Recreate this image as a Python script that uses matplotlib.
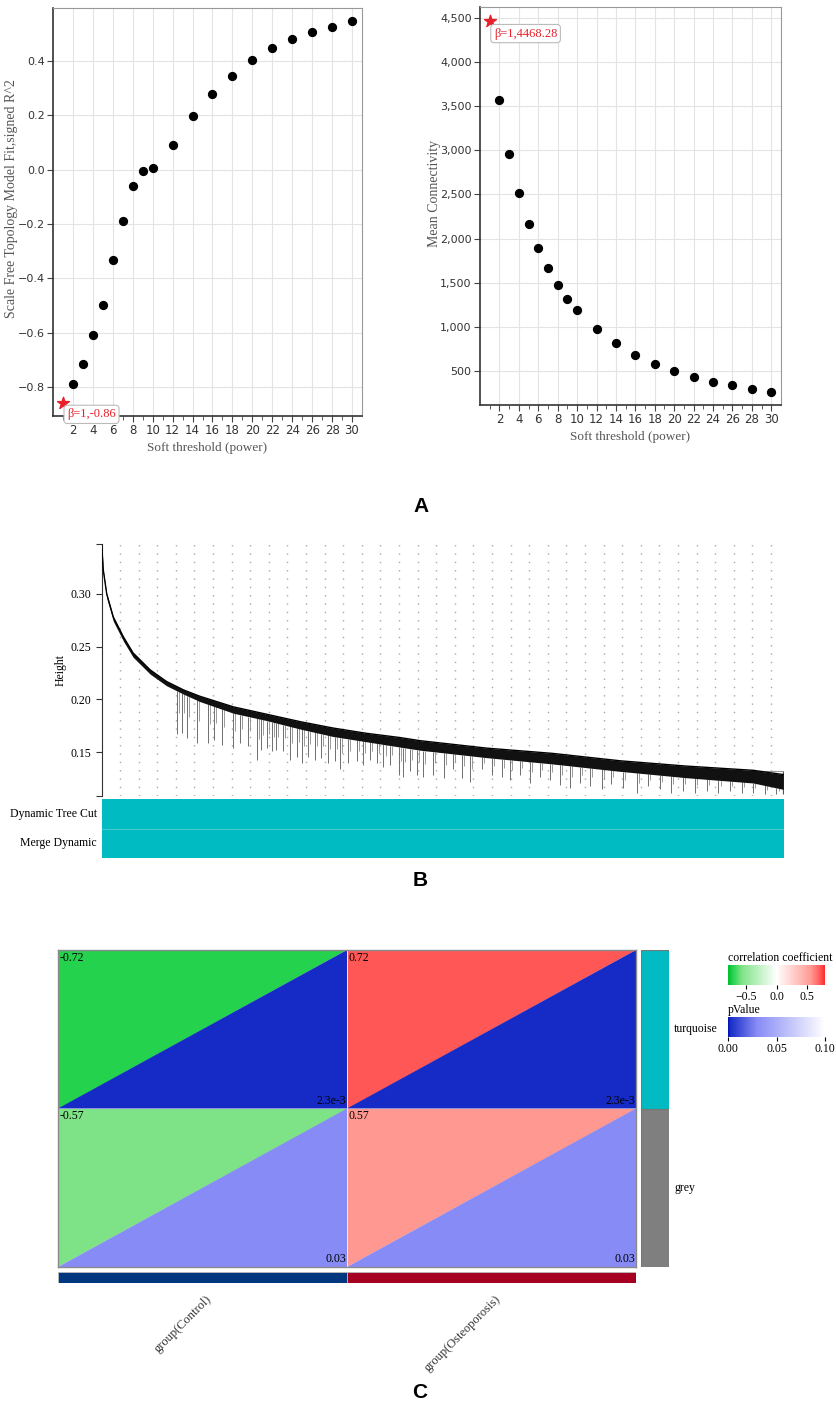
import numpy as np
import matplotlib
matplotlib.use("Agg")
import matplotlib.pyplot as plt
from matplotlib.colors import LinearSegmentedColormap, Normalize
from matplotlib.patches import Polygon, Rectangle
from matplotlib.cm import ScalarMappable
from matplotlib.ticker import FuncFormatter

plt.rcParams['font.family'] = ['Liberation Serif', 'DejaVu Sans']

# ---- soft threshold scan (A) ----
powers = [1, 2, 3, 4, 5, 6, 7, 8, 9, 10, 12, 14, 16, 18, 20, 22, 24, 26, 28, 30]
sft_r2 = [-0.86, -0.79, -0.717, -0.610, -0.497, -0.331, -0.188, -0.060, -0.005, 0.007,
          0.092, 0.198, 0.277, 0.344, 0.402, 0.447, 0.482, 0.507, 0.526, 0.546]
mean_k = [4468.28, 3573, 2960, 2513, 2161, 1889, 1662, 1473, 1317, 1189,
          969, 810, 682, 580, 500, 432, 375, 333, 292, 258]

# ---- gene dendrogram (B), leaf position as fraction of leaf order ----
tree_x = [0.000, 0.0024, 0.0073, 0.017, 0.032, 0.046, 0.071, 0.095, 0.120, 0.144, 0.193,
          0.242, 0.291, 0.339, 0.388, 0.437, 0.467, 0.564, 0.661, 0.760, 0.857, 0.955, 0.999]
tree_top = [0.346, 0.322, 0.300, 0.278, 0.259, 0.244, 0.228, 0.217, 0.209, 0.203, 0.193,
            0.186, 0.179, 0.173, 0.168, 0.164, 0.161, 0.154, 0.149, 0.142, 0.137, 0.133, 0.129]
tree_low = [0.342, 0.318, 0.296, 0.274, 0.255, 0.240, 0.224, 0.213, 0.205, 0.198, 0.187,
            0.180, 0.172, 0.165, 0.160, 0.155, 0.152, 0.145, 0.139, 0.132, 0.126, 0.121, 0.115]
branch_x = [0.110, 0.117, 0.125, 0.139, 0.156, 0.164, 0.176, 0.193, 0.203, 0.215, 0.227,
            0.234, 0.242, 0.249, 0.256, 0.266, 0.276, 0.286, 0.293, 0.303, 0.313, 0.322,
            0.332, 0.342, 0.349, 0.361, 0.374, 0.383, 0.393, 0.403, 0.413, 0.423, 0.435,
            0.442, 0.452, 0.462, 0.471, 0.486, 0.501, 0.515, 0.528, 0.540, 0.557, 0.572,
            0.586, 0.598, 0.613, 0.628, 0.642, 0.657, 0.672, 0.686, 0.701, 0.716, 0.733,
            0.747, 0.764, 0.784, 0.801, 0.818, 0.835, 0.852, 0.870, 0.887, 0.904, 0.921,
            0.938, 0.955, 0.972, 0.989]
branch_low = [0.167, 0.168, 0.164, 0.159, 0.159, 0.162, 0.157, 0.154, 0.159, 0.156, 0.143,
              0.152, 0.154, 0.151, 0.152, 0.151, 0.143, 0.146, 0.140, 0.146, 0.143, 0.145,
              0.140, 0.142, 0.134, 0.140, 0.142, 0.138, 0.143, 0.140, 0.136, 0.138, 0.129,
              0.127, 0.132, 0.129, 0.127, 0.129, 0.126, 0.134, 0.126, 0.122, 0.134, 0.129,
              0.127, 0.124, 0.129, 0.121, 0.127, 0.124, 0.119, 0.116, 0.121, 0.118, 0.115,
              0.120, 0.116, 0.112, 0.118, 0.115, 0.112, 0.113, 0.112, 0.113, 0.112, 0.113,
              0.112, 0.112, 0.111, 0.111]
band_labels = ['Dynamic Tree Cut', 'Merge Dynamic']
band_modules = ['turquoise', 'turquoise']

# ---- module-trait relationships (C) ----
modules = ['turquoise', 'grey']
groups = ['group(Control)', 'group(Osteoporosis)']
corr = [[-0.72, 0.72], [-0.57, 0.57]]
pval = [[2.3e-3, 2.3e-3], [0.03, 0.03]]

module_hex = {'turquoise': '#00BBC1', 'grey': '#7F7F7F'}
group_hex = ['#00377F', '#A50022']
RED = '#E8202A'

W, H = 836, 1406
fig = plt.figure(figsize=(W / 100, H / 100), dpi=100)


def box(x0, y0, x1, y1):
    return [x0 / W, 1 - y1 / H, (x1 - x0) / W, (y1 - y0) / H]


def sft_panel(rect, y, ylabel, yticks, ylim, fmt, label_xy, note_off):
    ax = fig.add_axes(rect)
    ax.scatter(powers[1:], y[1:], s=32, color='black', zorder=3)
    ax.scatter(powers[0], y[0], marker='*', s=80, color=RED, zorder=4, clip_on=False)
    ax.annotate(f"\u03b2={powers[0]},{y[0]:g}", xy=(powers[0], y[0]), xytext=note_off,
                textcoords='offset points', ha='left', va='center', color=RED, fontsize=9,
                bbox=dict(boxstyle='round,pad=0.25', fc='white', ec='#bbbbbb', lw=0.8),
                annotation_clip=False, zorder=5)
    ax.set_xlim(0, 31)
    ax.set_ylim(*ylim)
    ax.set_xticks(range(2, 31, 2))
    ax.set_xticks(range(1, 31, 2), minor=True)
    ax.set_yticks(yticks)
    ax.yaxis.set_major_formatter(FuncFormatter(fmt))
    ax.grid(color='#e3e3e3', lw=0.8)
    ax.set_axisbelow(True)
    ax.tick_params(which='both', direction='out', length=4, color='#444', labelsize=8,
                   labelcolor='#333', labelfontfamily='DejaVu Sans', pad=2)
    ax.tick_params(which='minor', length=3)
    ax.tick_params(axis='x', labelsize=8.5)
    for s in ('left', 'bottom'):
        ax.spines[s].set_color('#333')
        ax.spines[s].set_linewidth(1.2)
    for s in ('top', 'right'):
        ax.spines[s].set_color('#999')
        ax.spines[s].set_linewidth(0.8)
    ax.set_xlabel('Soft threshold (power)', fontsize=9.5, color='#555', labelpad=3)
    ax.set_ylabel(ylabel, fontsize=10, color='#555')
    ax.yaxis.set_label_coords(*label_xy)
    return ax


sft_panel(box(53, 8, 362, 416), sft_r2, 'Scale Free Topology Model Fit,signed R^2',
          [-0.8, -0.6, -0.4, -0.2, 0.0, 0.2, 0.4], (-0.907, 0.595),
          lambda v, p: f"{v:.1f}".replace('-', '\u2212'), (-0.112, 0.533), (3, -8))
sft_panel(box(480, 7, 781, 405), mean_k, 'Mean Connectivity',
          [500, 1000, 1500, 2000, 2500, 3000, 3500, 4000, 4500], (110, 4628),
          lambda v, p: f"{v:,.0f}", (-0.128, 0.531), (3, -9))

# ---- dendrogram ----
axd = fig.add_axes(box(101.7, 544, 784, 795.7))
ylo, yhi = 0.109, 0.347
axd.set_xlim(0, 1)
axd.set_ylim(ylo, yhi)
for gx in np.linspace(0.0268, 0.981, 36):
    axd.axvline(gx, color='#a8a8a8', lw=1.0, ls=(0, (1, 5)), zorder=0)
drop_top = np.interp(branch_x, tree_x, tree_low)
axd.vlines(branch_x, branch_low, drop_top, color='#6e6e6e', lw=0.7, zorder=2)
axd.vlines(np.array(branch_x) + 0.003, (np.array(branch_low) + drop_top) / 2, drop_top,
           color='#8a8a8a', lw=0.6, zorder=2)
axd.fill_between(tree_x, tree_top, tree_low, color='#111111', lw=0, zorder=3)
axd.plot(tree_x, tree_top, color='black', lw=1.0, zorder=3)
axd.hlines(0.132, 0.80, 0.999, color='#999', lw=0.8, zorder=2)
axd.vlines(0.999, 0.111, 0.132, color='#555', lw=0.9, zorder=2)
axd.set_xticks([])
axd.set_yticks([ylo, 0.15, 0.20, 0.25, 0.30, yhi])
axd.set_yticklabels(['', '0.15', '0.20', '0.25', '0.30', ''])
axd.tick_params(axis='y', direction='out', length=4, color='#333', labelsize=8.5)
for s in ('top', 'right', 'bottom'):
    axd.spines[s].set_visible(False)
axd.spines['left'].set_color('#333')
axd.set_ylabel('Height', fontsize=8.5, labelpad=3)

axb = fig.add_axes(box(101.7, 799, 784, 858))
axb.set_xlim(0, 1)
axb.set_ylim(len(band_labels), 0)
for r, (name, mod) in enumerate(zip(band_labels, band_modules)):
    axb.add_patch(Rectangle((0, r), 1, 1, color=module_hex[mod], lw=0))
    axb.text(-0.007, r + 0.5, name, ha='right', va='center', fontsize=8.5)
axb.axhline(1, color='#3fcbd0', lw=0.8)
axb.axis('off')

# ---- module-trait heatmap ----
corr_cmap = LinearSegmentedColormap.from_list(
    'corr', [(0.0, '#00BE2E'), (0.05, '#26D350'), (0.144, '#80E488'), (0.5, '#FFFFFF'),
             (0.856, '#FF9A92'), (0.95, '#FF5A58'), (1.0, '#FF2A2A')])
corr_norm = Normalize(-0.8, 0.8)
p_cmap = LinearSegmentedColormap.from_list(
    'pv', [(0.0, '#0010B4'), (0.023, '#1A2EC8'), (0.3, '#888CF5'), (1.0, '#FFFFFF')])
p_norm = Normalize(0, 0.1)


def fmt_p(p):
    if p < 0.01:
        m, e = f"{p:.1e}".split('e')
        return f"{m}e{int(e)}"
    return f"{p:.2f}"


axh = fig.add_axes(box(58, 950, 636, 1267))
axh.set_xlim(0, len(groups))
axh.set_ylim(len(modules), 0)
for i in range(len(modules)):
    for j in range(len(groups)):
        x0, x1, yt, yb = j, j + 1, i, i + 1
        axh.add_patch(Polygon([(x0, yb), (x0, yt), (x1, yt)], closed=True, lw=0,
                              fc=corr_cmap(corr_norm(corr[i][j]))))
        axh.add_patch(Polygon([(x0, yb), (x1, yt), (x1, yb)], closed=True, lw=0,
                              fc=p_cmap(p_norm(pval[i][j]))))
        axh.text(x0 + 0.004, yt + 0.012, f"{corr[i][j]:.2f}", ha='left', va='top', fontsize=8.5)
        axh.text(x1 - 0.004, yb - 0.012, fmt_p(pval[i][j]), ha='right', va='bottom', fontsize=8.5)
axh.axvline(1, color='#f0e8f0', lw=0.7)
axh.set_xticks([])
axh.set_yticks([])
for s in axh.spines.values():
    s.set_color('#8a8a8a')
    s.set_linewidth(1.0)

axs = fig.add_axes(box(641, 950, 669, 1267))
axs.set_xlim(0, 1)
axs.set_ylim(len(modules), 0)
for i, m in enumerate(modules):
    axs.add_patch(Rectangle((0, i), 1, 1, fc=module_hex[m], ec='#777', lw=0.8))
    axs.text(1.18, i + 0.5, m, ha='left', va='center', fontsize=8.5)
axs.axis('off')

axg = fig.add_axes(box(58, 1272, 636, 1283))
axg.set_xlim(0, len(groups))
axg.set_ylim(1, 0)
for j, g in enumerate(groups):
    axg.add_patch(Rectangle((j, 0), 1, 1, fc=group_hex[j], ec='#bbbbbb', lw=0.6))
    axg.annotate(g, xy=(j + 0.5, 1), xytext=(2, -7), textcoords='offset points',
                 rotation=45, rotation_mode='anchor', ha='right', va='top', fontsize=9,
                 color='#333', annotation_clip=False)
axg.axis('off')

# legends
for rect, cmap, norm, ticks, labels, title in [
        (box(728, 965, 825, 985), corr_cmap, corr_norm, [-0.5, 0.0, 0.5],
         ['\u22120.5', '0.0', '0.5'], 'correlation coefficient'),
        (box(728, 1017, 825, 1037), p_cmap, p_norm, [0.0, 0.05, 0.1],
         ['0.00', '0.05', '0.10'], 'pValue')]:
    cax = fig.add_axes(rect)
    cb = fig.colorbar(ScalarMappable(norm=norm, cmap=cmap), cax=cax, orientation='horizontal')
    cb.outline.set_visible(False)
    cb.set_ticks(ticks)
    cb.set_ticklabels(labels)
    cax.tick_params(length=3, width=0.8, labelsize=8.5, pad=1)
    cax.text(0, 1.05, title, transform=cax.transAxes, ha='left', va='bottom', fontsize=8.5)

for letter, (x, y) in zip('ABC', [(421, 507), (420, 880), (420, 1393)]):
    fig.text(x / W, 1 - y / H, letter, ha='center', va='center', fontsize=15,
             fontweight='bold', family='Liberation Sans')

fig.savefig('out.png', dpi=100)
